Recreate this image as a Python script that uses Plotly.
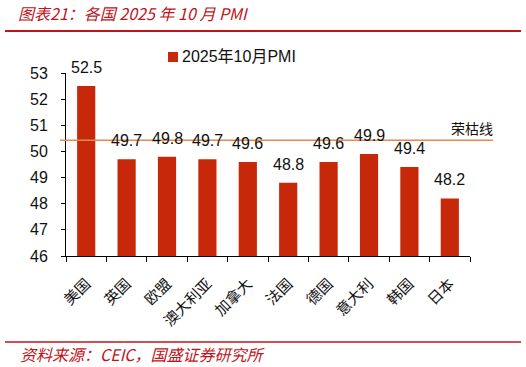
import plotly.graph_objects as go

categories = ["美国", "英国", "欧盟", "澳大利亚", "加拿大", "法国", "德国", "意大利", "韩国", "日本"]
pmi_values = [52.5, 49.7, 49.8, 49.7, 49.6, 48.8, 49.6, 49.9, 49.4, 48.2]
series_name = "2025年10月PMI"
threshold = 50.43
y_ticks = [46, 47, 48, 49, 50, 51, 52, 53]

W, H = 526, 367
L, R, T, B = 66, 470, 73, 256

def px2x(p):
    return (p - L) / (R - L)

def py2y(p):
    return (B - p) / (B - T)

RED = "#C0141B"
BAR = "#C8280A"
LINE = "#E8874F"
NUMFONT = "Liberation Sans, Noto Sans CJK SC, sans-serif"
CJKFONT = "Noto Sans CJK SC, sans-serif"

fig = go.Figure()
fig.add_trace(go.Bar(
    x=categories, y=pmi_values, name=series_name,
    marker=dict(color=BAR, line=dict(width=0)),
    showlegend=False,
))

# data labels
for c, v in zip(categories, pmi_values):
    fig.add_annotation(x=c, y=v, xref="x", yref="y", text=f"{v:.1f}",
                       showarrow=False, yanchor="bottom", yshift=8,
                       font=dict(family=NUMFONT, size=16, color="#111"))

fig.update_layout(
    width=W, height=H,
    margin=dict(l=L, r=W - R, t=T, b=H - B),
    paper_bgcolor="white", plot_bgcolor="white",
    bargap=0.55,
    showlegend=False,
    xaxis=dict(
        showline=True, linecolor="#000", linewidth=1,
        ticks="outside", ticklen=5, tickcolor="#000", tickson="boundaries",
        tickangle=-45, tickfont=dict(family=CJKFONT, size=15, color="#111"),
        ticklabelstandoff=12,
        showgrid=False,
    ),
    yaxis=dict(
        range=[46, 53], tickvals=y_ticks,
        showline=True, linecolor="#000", linewidth=1,
        ticks="outside", ticklen=4, tickcolor="#000",
        tickfont=dict(family=NUMFONT, size=16, color="#111"),
        ticklabelstandoff=10,
        showgrid=False, zeroline=False,
    ),
)

# legend (manual)
fig.add_shape(type="rect", xref="paper", yref="paper",
              x0=px2x(168), x1=px2x(178), y0=py2y(52), y1=py2y(62),
              fillcolor=BAR, line=dict(width=0))
fig.add_annotation(xref="paper", yref="paper", x=px2x(180), y=py2y(57),
                   text=series_name, showarrow=False, xanchor="left", yanchor="middle",
                   font=dict(family=NUMFONT, size=16, color="#111"))

# threshold line (荣枯线)
fig.add_shape(type="line", xref="paper", yref="y",
              x0=px2x(60), x1=px2x(493), y0=threshold, y1=threshold,
              line=dict(color=LINE, width=1.5))
fig.add_annotation(xref="paper", yref="y", x=px2x(472), y=threshold,
                   yshift=12, text="荣枯线", showarrow=False,
                   font=dict(family=CJKFONT, size=14, color="#111"),
                   xanchor="center", yanchor="middle")

# title and footer
fig.add_annotation(xref="paper", yref="paper", x=px2x(16), y=py2y(13),
                   text="图表21：各国 2025 年 10 月 PMI", showarrow=False,
                   xanchor="left", yanchor="middle",
                   font=dict(family=CJKFONT, size=16, color=RED, style="italic"))
fig.add_shape(type="line", xref="paper", yref="paper",
              x0=px2x(5), x1=px2x(521), y0=py2y(31), y1=py2y(31),
              line=dict(color=RED, width=2))
fig.add_shape(type="line", xref="paper", yref="paper",
              x0=px2x(5), x1=px2x(521), y0=py2y(342), y1=py2y(342),
              line=dict(color=RED, width=1.5))
fig.add_annotation(xref="paper", yref="paper", x=px2x(18), y=py2y(354),
                   text="资料来源：CEIC，国盛证券研究所", showarrow=False,
                   xanchor="left", yanchor="middle",
                   font=dict(family=CJKFONT, size=16, color=RED, style="italic"))

fig.write_html("out.html")
